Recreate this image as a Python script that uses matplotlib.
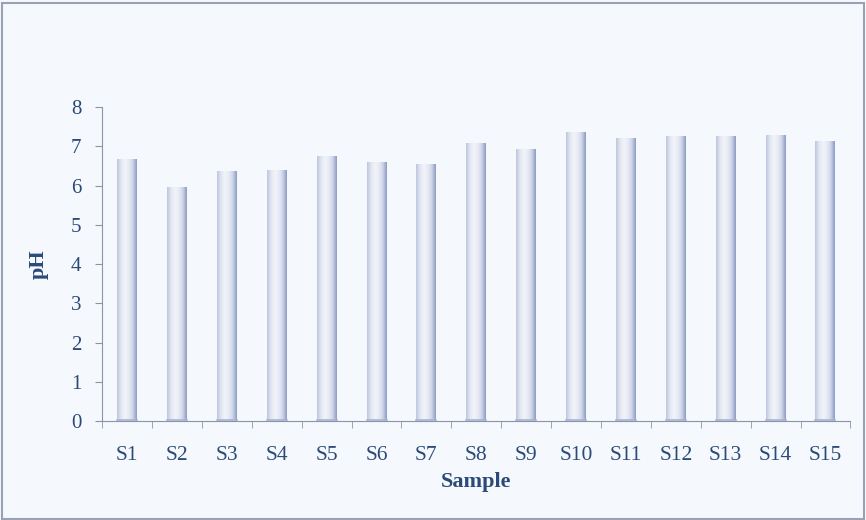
import numpy as np
import matplotlib
matplotlib.use('Agg')
import matplotlib.pyplot as plt
from matplotlib.colors import LinearSegmentedColormap

samples = ['S1', 'S2', 'S3', 'S4', 'S5', 'S6', 'S7', 'S8', 'S9', 'S10',
           'S11', 'S12', 'S13', 'S14', 'S15']
ph = [6.67, 5.95, 6.36, 6.38, 6.74, 6.59, 6.54, 7.07, 6.92, 7.35,
      7.20, 7.25, 7.25, 7.28, 7.12]

plt.rcParams['font.family'] = ['Liberation Serif', 'DejaVu Serif']
text_col = '#2B4A78'
bg = '#F5F9FD'

fig = plt.figure(figsize=(8.66, 5.2), dpi=100, facecolor=bg)
ax = fig.add_axes([0.118, 0.19, 0.864, 0.604])
ax.set_facecolor(bg)

x = np.arange(len(samples))
bars = ax.bar(x, ph, width=0.4, color='none', edgecolor='none', zorder=2)

# cylinder-like shading across each bar
cmap = LinearSegmentedColormap.from_list(
    'cyl', ['#BCC5DE', '#E3E7F2', '#F2F4FA', '#E8EBF4', '#CDD4E8', '#8C9BC2'])
grad = np.linspace(0, 1, 64).reshape(1, -1)
for b in bars:
    bx, bw, bh = b.get_x(), b.get_width(), b.get_height()
    ax.imshow(grad, cmap=cmap, aspect='auto', extent=(bx, bx + bw, 0, bh),
              zorder=2, interpolation='bicubic')
    ax.plot([bx, bx + bw], [0.03, 0.03], color='#A9B4D2', lw=1.2, zorder=3)

ax.set_xlim(-0.5, len(samples) - 0.5)
ax.set_ylim(0, 8)
ax.set_yticks(range(0, 9))
ax.set_xticks(x)
ax.set_xticklabels(samples)
ax.set_xticks(np.arange(-0.5, len(samples)), minor=True)
ax.tick_params(axis='x', which='major', length=0, pad=18,
               labelsize=15.5, labelcolor=text_col)
ax.tick_params(axis='x', which='minor', length=5, direction='out',
               color='#8A94A8')
ax.tick_params(axis='y', length=5, color='#8A94A8', labelsize=15,
               labelcolor=text_col, pad=10)

for s in ['top', 'right']:
    ax.spines[s].set_visible(False)
for s in ['left', 'bottom']:
    ax.spines[s].set_color('#8A94A8')

ax.set_xlabel('Sample', fontsize=16, fontweight='bold', color=text_col,
              labelpad=5)
ax.set_ylabel('pH', fontsize=16, fontweight='bold', color=text_col,
              labelpad=16)

# outer chart border
fig.patches.append(plt.Rectangle((0.002, 0.002), 0.996, 0.992,
                                 transform=fig.transFigure, fill=False,
                                 edgecolor='#9AA2B2', lw=1.5))

plt.savefig('out.png', dpi=100, facecolor=bg)
